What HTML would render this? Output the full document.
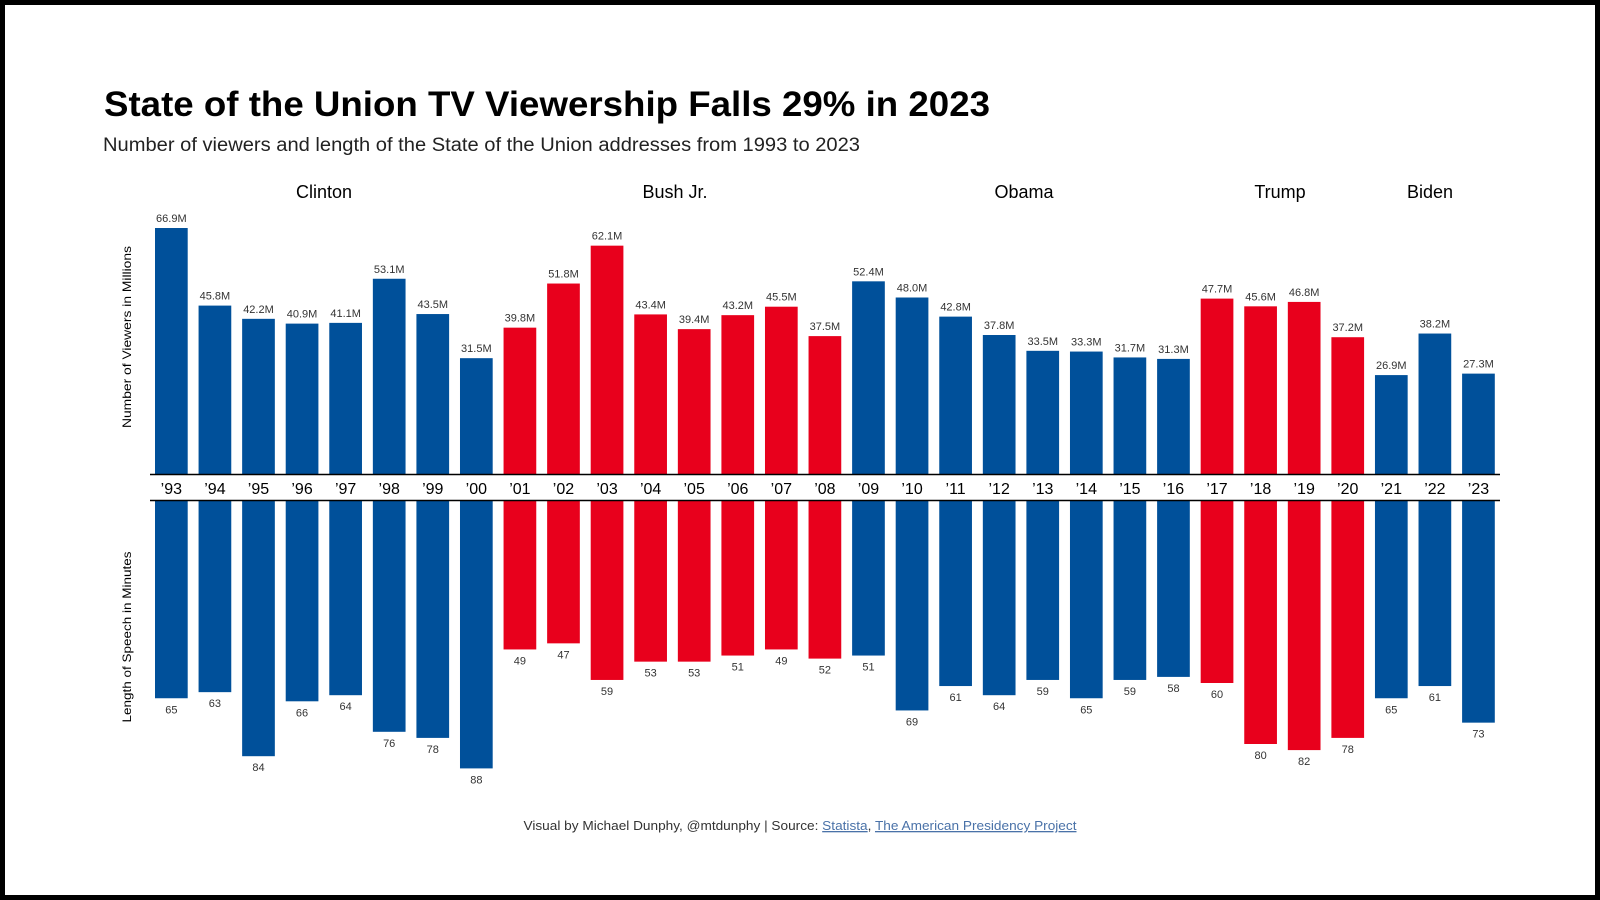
<!DOCTYPE html>
<html><head><meta charset="utf-8"><style>
html,body{margin:0;padding:0;background:#fff}
svg{display:block}
text{font-family:"Liberation Sans",sans-serif}
</style></head><body>
<svg id="c" width="1600" height="900" viewBox="0 0 1600 900" xmlns="http://www.w3.org/2000/svg">
<rect x="2.5" y="2.5" width="1595" height="895" fill="#fff" stroke="#000" stroke-width="5"/>
<text x="104" y="116" font-size="35" font-weight="bold" fill="#000" textLength="886" lengthAdjust="spacingAndGlyphs">State of the Union TV Viewership Falls 29% in 2023</text>
<text x="103" y="151" font-size="19" fill="#222" textLength="757" lengthAdjust="spacingAndGlyphs">Number of viewers and length of the State of the Union addresses from 1993 to 2023</text>
<text x="324" y="198" font-size="18" text-anchor="middle">Clinton</text>
<text x="675" y="198" font-size="18" text-anchor="middle">Bush Jr.</text>
<text x="1024" y="198" font-size="18" text-anchor="middle">Obama</text>
<text x="1280" y="198" font-size="18" text-anchor="middle">Trump</text>
<text x="1430" y="198" font-size="18" text-anchor="middle">Biden</text>
<text transform="translate(131,337) rotate(-90)" font-size="12" text-anchor="middle" textLength="182" lengthAdjust="spacingAndGlyphs">Number of Viewers in Millions</text>
<text transform="translate(131,637) rotate(-90)" font-size="12" text-anchor="middle" textLength="171" lengthAdjust="spacingAndGlyphs">Length of Speech in Minutes</text>
<g id="marks"></g>
<line x1="150" y1="474.5" x2="1500" y2="474.5" stroke="#000" stroke-width="1.5"/>
<line x1="150" y1="500.5" x2="1500" y2="500.5" stroke="#000" stroke-width="1.5"/>
<text x="800" y="830" font-size="13" text-anchor="middle" fill="#333" textLength="553" lengthAdjust="spacingAndGlyphs">Visual by Michael Dunphy, @mtdunphy | Source: <tspan fill="#4a72a8" text-decoration="underline">Statista</tspan>, <tspan fill="#4a72a8" text-decoration="underline">The American Presidency Project</tspan></text>
</svg>
<script>
const years=["'93","'94","'95","'96","'97","'98","'99","'00","'01","'02","'03","'04","'05","'06","'07","'08","'09","'10","'11","'12","'13","'14","'15","'16","'17","'18","'19","'20","'21","'22","'23"];
const viewers=[66.9,45.8,42.2,40.9,41.1,53.1,43.5,31.5,39.8,51.8,62.1,43.4,39.4,43.2,45.5,37.5,52.4,48.0,42.8,37.8,33.5,33.3,31.7,31.3,47.7,45.6,46.8,37.2,26.9,38.2,27.3];
const minutes=[65,63,84,66,64,76,78,88,49,47,59,53,53,51,49,52,51,69,61,64,59,65,59,58,60,80,82,78,65,61,73];
const party=["D","D","D","D","D","D","D","D","R","R","R","R","R","R","R","R","D","D","D","D","D","D","D","D","R","R","R","R","D","D","D"];

const NS="http://www.w3.org/2000/svg";
const g=document.getElementById('marks');
const x0=155,pitch=43.57,bw=32.7;
const topBase=474,botBase=500,vScale=3.677,mScale=3.05;
const xPos=i=>x0+i*pitch;
const yTop=v=>topBase-v*vScale;
const yBot=m=>botBase+m*mScale;
const col=p=>p==="D"?"#00509a":"#e8001c";
function mk(tag,attrs){const e=document.createElementNS(NS,tag);for(const k in attrs)e.setAttribute(k,attrs[k]);g.appendChild(e);return e;}
years.forEach((yr,i)=>{
  const x=xPos(i),cx=x+bw/2;
  const r1=mk('rect',{x:x,y:yTop(viewers[i]),width:bw,height:topBase-yTop(viewers[i]),fill:col(party[i])});
  
  
  const t1=mk('text',{x:cx,y:yTop(viewers[i])-6,'font-size':11,'text-anchor':'middle',fill:'#333'});
  t1.textContent=viewers[i].toFixed(1)+'M';
  
  
  const r2=mk('rect',{x:x,y:botBase,width:bw,height:yBot(minutes[i])-botBase,fill:col(party[i])});
  
  
  const t2=mk('text',{x:cx,y:yBot(minutes[i])+15,'font-size':11,'text-anchor':'middle',fill:'#333'});
  t2.textContent=minutes[i];
  
  
  const t3=mk('text',{x:cx,y:494,'font-size':16,'text-anchor':'middle',fill:'#000'});
  t3.textContent=yr.replace("'","\u2019");
  
  
});
</script>
</body></html>
